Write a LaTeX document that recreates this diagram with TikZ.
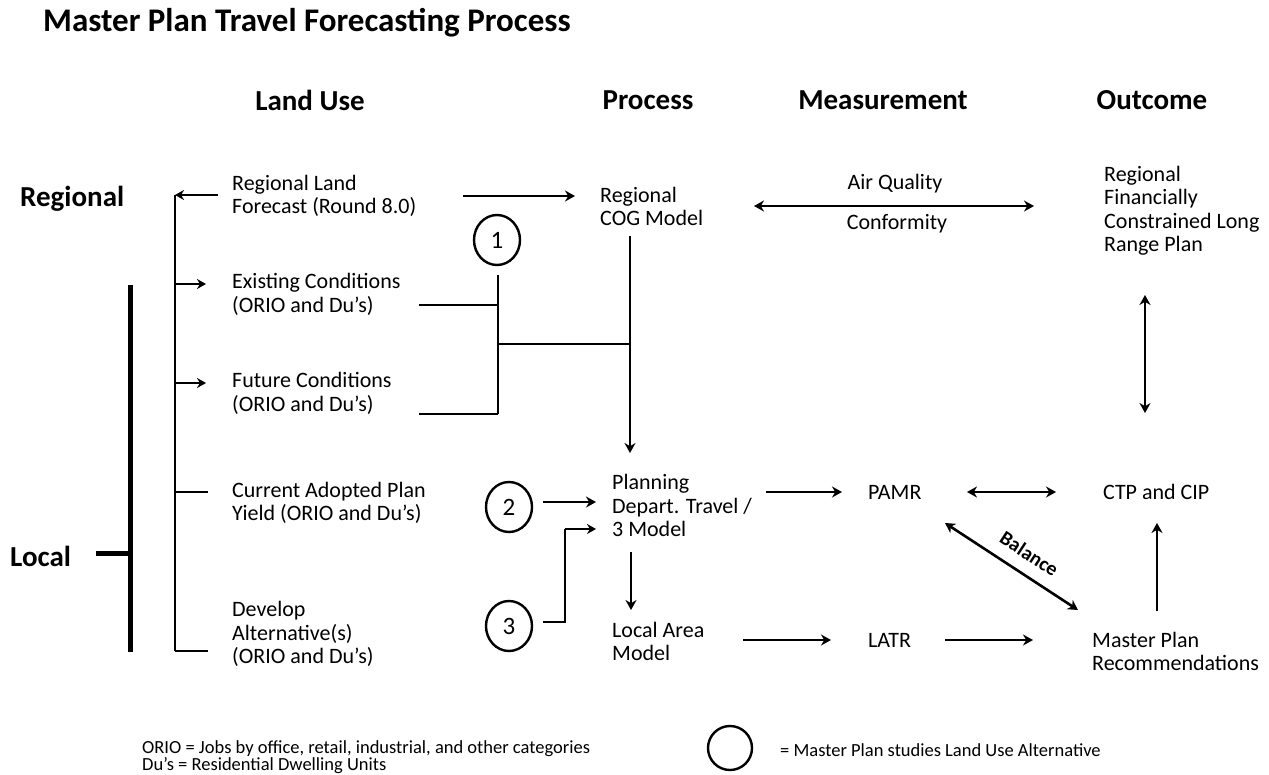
\documentclass[tikz,border=0pt]{standalone}
\usepackage{fontspec}
\setmainfont{Carlito}
\usetikzlibrary{arrows.meta,shapes.geometric}
\begin{document}
\begin{tikzpicture}[x=1pt,y=-1pt,
  txt/.style={anchor=west,align=left,inner sep=0pt,font=\fontsize{22}{23.5}\selectfont},
  hdr/.style={inner sep=0pt,font=\bfseries\fontsize{29}{32}\selectfont},
  ttl/.style={anchor=west,inner sep=0pt,font=\bfseries\fontsize{33}{36}\selectfont},
  legtxt/.style={anchor=west,inner sep=0pt,font=\fontsize{18.5}{20}\selectfont},
  circ/.style={draw,ellipse,line width=2.4pt,minimum width=46pt,minimum height=50pt,inner sep=0pt,font=\fontsize{25}{25}\selectfont},
  thin/.style={line width=1.5pt},
  thinarr/.style={line width=1.8pt,-{Stealth[length=9pt,width=10pt]}},
  arr/.style={line width=2.6pt,-{Stealth[length=10pt,width=11pt]}},
  darr/.style={line width=2.6pt,{Stealth[length=10pt,width=11pt]}-{Stealth[length=10pt,width=11pt]}},
  thick5/.style={line width=5pt},
  baltxt/.style={sloped,above=12pt,inner sep=0pt,font=\bfseries\fontsize{20}{20}\selectfont}
]
\useasboundingbox (0,0) rectangle (1269,774);

% title and headers
\node[ttl] (title) at (43,23) {Master Plan Travel Forecasting Process};
\node[hdr] (hLU) at (310,100) {Land Use};
\node[hdr] (hPr) at (648,100) {Process};
\node[hdr] (hMe) at (883,100) {Measurement};
\node[hdr] (hOu) at (1152,100) {Outcome};
\node[hdr,anchor=west] (reg) at (20,199) {Regional};
\node[hdr,anchor=west] (loc) at (10,556) {Local};

% land use column
\node[txt] (RLF) at (232,196) {Regional Land\\Forecast (Round 8.0)};
\node[txt] (EC) at (232,294.5) {Existing Conditions\\(ORIO and Du’s)};
\node[txt] (FC) at (232,393.5) {Future Conditions\\(ORIO and Du’s)};
\node[txt] (CAP) at (232,503) {Current Adopted Plan\\Yield (ORIO and Du’s)};
\node[txt] (DA) at (232,634) {Develop\\Alternative(s)\\(ORIO and Du’s)};

% process column
\node[txt] (COG) at (600,206.5) {Regional\\COG Model};
\node[txt] (PD) at (612,505.5) {Planning\\Depart. Travel /\\3 Model};
\node[txt] (LAM) at (612,641.5) {Local Area\\Model};

% measurement
\node[txt,anchor=center] (AQ) at (895,184) {Air Quality};
\node[txt,anchor=center] (CF) at (897,224) {Conformity};
\node[txt] (PAMR) at (868,492) {PAMR};
\node[txt] (LATR) at (868,640) {LATR};

% outcome
\node[txt] (RFC) at (1104,210.5) {Regional\\Financially\\Constrained Long\\Range Plan};
\node[txt] (CTP) at (1103,492) {CTP and CIP};
\node[txt] (MPR) at (1092,651.5) {Master Plan\\Recommendations};

% circles
\node[circ] (c1) at (497,240) {1};
\node[circ] (c2) at (509,507) {2};
\node[circ] (c3) at (509,626) {3};

% coordinates
\coordinate (bT) at (175,195);
\coordinate (bB) at (175,651);
\coordinate (aEC) at (175,284);
\coordinate (aFC) at (175,383);
\coordinate (aCAP) at (175,492);
\coordinate (lT) at (130,285);
\coordinate (lB) at (130,652);
\coordinate (lM) at (130,553);
\coordinate (lL) at (96,553);
\coordinate (j1) at (498,275);
\coordinate (jEC) at (498,305);
\coordinate (jFC) at (498,414);
\coordinate (jM) at (498,344);
\coordinate (cogM) at (630,344);
\coordinate (k1) at (565,622);
\coordinate (k2) at (565,529);

% land use bracket
\draw[thinarr] ([xshift=-14pt]RLF.west |- bT) -- (bT);
\draw[thin] (bT) -- (bB);
\draw[thinarr] (aEC) -- ([xshift=-26pt]EC.west |- aEC);
\draw[thinarr] (aFC) -- ([xshift=-26pt]FC.west |- aFC);
\draw[thin] (aCAP) -- ([xshift=-24pt]CAP.west |- aCAP);
\draw[thin] (bB) -- ([xshift=-24pt]DA.west |- bB);
\draw[thick5] (lT) -- (lB);
\draw[thick5] (lL) -- (lM);

% regional forecast to COG
\draw[arr] (463,196) -- ([xshift=-25pt]COG.west |- 0,196);

% circle 1 joins
\draw[thin] (419,305) -- (jEC);
\draw[thin] (419,414) -- (jFC);
\draw[thin] (j1) -- (jFC);
\draw[thin] (jM) -- (cogM);
\draw[line width=2.4pt,-{Stealth[length=10pt,width=11pt]}] (630,236) -- (630,453);

% air quality
\draw[darr] (754,206) -- (1034,206);
\draw[darr] (1145,295) -- (1145,413);

% circles 2 and 3
\draw[arr] ([xshift=10pt]c2.east |- 0,502) -- (596,502);
\draw[thin] ([xshift=10pt]c3.east |- k1) -- (k1) -- (k2);
\draw[thinarr] (k2) -- (596,529);

% process arrows
\draw[arr] (631,552) -- (631,610);
\draw[arr] (766,492) -- (842,492);
\draw[darr] (967,492) -- (1056,492);
\draw[darr] (945,523) -- node[baltxt,pos=0.55] {Balance} (1078,610);
\draw[arr] (1157,611) -- (1157,523);
\draw[arr] (743,640) -- (831,640);
\draw[arr] (945,640) -- (1033,640);

% legend
\node[legtxt] (L1) at (142,749) {ORIO = Jobs by office, retail, industrial, and other categories};
\node[legtxt] (L2) at (142,766) {Du’s = Residential Dwelling Units};
\node[draw,ellipse,line width=2.4pt,minimum width=44pt,minimum height=44pt] (lc) at (730,748) {};
\node[legtxt] (L3) at (780,750) {= Master Plan studies Land Use Alternative};
\end{tikzpicture}
\end{document}
